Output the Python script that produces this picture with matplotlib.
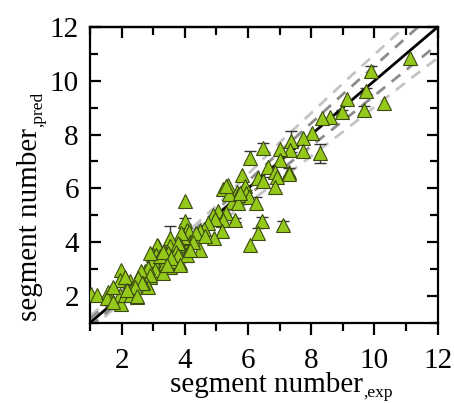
import numpy as np
import matplotlib
matplotlib.use("Agg")
import matplotlib.pyplot as plt
from matplotlib.ticker import MultipleLocator

plt.rcParams['font.family'] = ['Liberation Serif', 'DejaVu Serif']

# experimental vs predicted segment number, error of prediction (0 = no bar)
seg_exp = [11.12, 9.88, 9.72, 9.12, 8.98, 9.68, 10.30, 8.58, 8.33, 8.01,
           7.75, 7.35, 7.33, 7.75, 7.01, 8.28, 6.47, 6.07, 7.01, 6.64,
           6.85, 7.31, 7.29, 6.91, 6.33, 6.48, 6.86, 5.80, 5.38, 5.22,
           5.91, 5.95, 5.64, 6.03, 6.25, 5.69, 5.48, 5.40, 5.32, 5.70,
           5.75, 4.00, 6.43, 6.33, 6.08, 7.11,
           5.06, 4.88, 5.32, 5.20, 5.59, 4.96, 4.74, 4.61, 4.48, 5.17,
           4.92, 4.48, 4.01, 4.08, 4.14, 4.16, 4.32, 4.37, 4.64, 4.27,
           3.85, 3.95, 3.53, 3.89, 3.85, 4.04, 3.83, 3.53, 3.69, 3.45,
           3.16, 3.11, 3.00, 3.27, 2.90, 2.74, 2.95, 3.11, 3.37, 3.74,
           3.53, 3.78, 3.73, 3.47, 3.84, 3.57, 3.36, 3.10, 2.99, 3.05,
           3.31, 3.22, 3.32, 3.79, 4.06, 4.16, 3.58, 3.43, 3.85, 2.90,
           2.84, 2.89, 2.62, 2.63, 2.90,
           1.04, 1.23, 1.57, 1.62, 1.53, 1.94, 1.97, 1.99, 1.94, 2.26,
           2.50, 2.20, 2.41, 2.52, 2.78, 2.83, 2.10, 1.73, 2.31, 1.74,
           2.11, 2.69, 2.37, 2.53, 2.64, 2.42, 2.16, 2.48]
seg_pred = [10.84, 10.36, 9.63, 9.33, 8.83, 8.92, 9.18, 8.67, 8.61, 8.06,
            7.87, 7.75, 7.43, 7.38, 7.47, 7.30, 7.49, 7.14, 7.06, 6.81,
            6.62, 6.62, 6.52, 6.42, 6.40, 6.29, 6.05, 6.50, 6.11, 5.98,
            6.07, 5.82, 5.88, 5.67, 5.47, 5.76, 5.51, 5.80, 6.07, 5.45,
            5.82, 5.52, 4.77, 4.33, 3.90, 4.63,
            5.17, 5.01, 5.08, 4.83, 4.83, 4.85, 4.70, 4.50, 4.40, 4.40,
            4.15, 3.71, 4.79, 4.46, 4.39, 4.02, 4.21, 4.33, 4.21, 4.02,
            4.15, 4.18, 4.15, 4.33, 3.90, 3.53, 3.19, 3.84, 3.59, 3.47,
            3.86, 3.90, 3.53, 3.28, 3.16, 2.91, 2.85, 3.09, 3.59, 3.71,
            3.09, 3.96, 3.65, 3.59, 3.22, 3.28, 3.22, 3.53, 3.34, 2.97,
            2.86, 3.47, 3.65, 3.53, 3.53, 3.71, 3.40, 3.16, 3.16, 3.59,
            3.03, 2.72, 2.78, 2.91, 2.78,
            2.08, 2.04, 2.13, 1.92, 1.92, 2.04, 1.71, 2.97, 2.60, 2.54,
            1.96, 2.23, 2.35, 2.60, 2.48, 2.35, 2.04, 1.79, 2.04, 2.35,
            2.72, 2.48, 2.35, 2.66, 2.47, 2.35, 2.23, 1.98]
pred_err = [0.0, 0.2, 0.12, 0.0, 0.1, 0.15, 0.0, 0.0, 0.0, 0.0,
            0.0, 0.4, 0.0, 0.0, 0.0, 0.35, 0.2, 0.25, 0.0, 0.0,
            0.0, 0.15, 0.0, 0.0, 0.0, 0.12, 0.0, 0.0, 0.0, 0.0,
            0.0, 0.1, 0.0, 0.0, 0.2, 0.0, 0.0, 0.0, 0.0, 0.0,
            0.0, 0.0, 0.15, 0.2, 0.0, 0.15,
            0.0, 0.0, 0.0, 0.0, 0.08, 0.0, 0.0, 0.0, 0.0, 0.0,
            0.0, 0.0, 0.1, 0.0, 0.0, 0.0, 0.0, 0.0, 0.0, 0.0,
            0.0, 0.0, 0.45, 0.0, 0.0, 0.0, 0.0, 0.0, 0.0, 0.0,
            0.0, 0.0, 0.0, 0.0, 0.0, 0.0, 0.0, 0.0, 0.0, 0.0,
            0.0, 0.0, 0.0, 0.0, 0.0, 0.0, 0.0, 0.0, 0.0, 0.0,
            0.0, 0.0, 0.0, 0.0, 0.0, 0.0, 0.0, 0.0, 0.1, 0.0,
            0.0, 0.0, 0.0, 0.0, 0.0,
            0.0, 0.0, 0.0, 0.0, 0.0, 0.0, 0.0, 0.0, 0.0, 0.0,
            0.0, 0.0, 0.0, 0.0, 0.0, 0.0, 0.0, 0.0, 0.0, 0.0,
            0.0, 0.0, 0.0, 0.0, 0.0, 0.0, 0.0, 0.0]

# half widths of the dashed bands around y = x
band_x = [1, 3, 5, 7, 9, 11, 12]
band_inner = [0.15, 0.12, 0.18, 0.35, 0.5, 0.6, 0.65]
band_outer = [0.25, 0.22, 0.35, 0.7, 0.9, 1.05, 1.15]

ticks = [2, 4, 6, 8, 10, 12]

fig = plt.figure(figsize=(4.54, 4.03), dpi=100)
ax = fig.add_axes([0.198, 0.199, 0.766, 0.734])

bx = np.array(band_x, dtype=float)
for half, col in [(band_outer, '#c4c4c4'), (band_inner, '#8c8c8c')]:
    h = np.array(half)
    for sgn in (1, -1):
        ax.plot(bx, bx + sgn * h, color=col, lw=2.0, dashes=(4, 3), zorder=1)

ax.plot([1, 12], [1, 12], color='black', lw=2.0, zorder=2)

x = np.array(seg_exp)
y = np.array(seg_pred)
e = np.array(pred_err)
has = e > 0
ax.errorbar(x[has], y[has], yerr=e[has], fmt='none', ecolor='#333333',
            elinewidth=1.0, capsize=4, capthick=1.0, zorder=3)
ax.plot(x, y, ls='none', marker='^', ms=10.5, mfc='#94c81a', mec='#3a4a10',
        mew=0.8, zorder=4)

ax.set_xlim(1, 12)
ax.set_ylim(1, 12)
ax.set_xticks(ticks)
ax.set_yticks(ticks)
ax.xaxis.set_minor_locator(MultipleLocator(1))
ax.yaxis.set_minor_locator(MultipleLocator(1))

for sp in ax.spines.values():
    sp.set_linewidth(1.6)

ax.tick_params(axis='y', which='both', direction='in', left=True, right=True,
               width=1.6, labelsize=21, pad=8)
ax.tick_params(axis='y', which='major', length=8)
ax.tick_params(axis='y', which='minor', length=5.5)
ax.tick_params(axis='x', which='both', direction='out', bottom=True, top=False,
               width=1.6, labelsize=21, pad=10)
ax.tick_params(axis='x', which='major', length=8.5)
ax.tick_params(axis='x', which='minor', length=6)

# top ticks point inward, unlike the bottom ones
top = ax.secondary_xaxis('top')
top.set_xticks(ticks)
top.xaxis.set_minor_locator(MultipleLocator(1))
top.tick_params(which='both', direction='in', width=1.6, labeltop=False)
top.tick_params(which='major', length=8)
top.tick_params(which='minor', length=5.5)
top.spines['top'].set_linewidth(1.6)

# axis labels with a small subscript after the main words
W, H = 454, 403
xl = fig.text(170 / W, 1 - 392 / H, 'segment number', fontsize=21,
              ha='left', va='baseline')
ax.annotate(',exp', xy=(1, 0), xycoords=xl, xytext=(0.5, -2.5),
            textcoords='offset points', ha='left', va='bottom', fontsize=12.5)
yl = fig.text(37 / W, 1 - 321 / H, 'segment number', fontsize=21,
              rotation=90, rotation_mode='anchor', ha='left', va='baseline')
ax.annotate(',pred', xy=(1, 1), xycoords=yl, xytext=(2.5, 0.5),
            textcoords='offset points', ha='right', va='bottom',
            rotation=90, fontsize=12.5)

fig.savefig('out.png', dpi=100)
